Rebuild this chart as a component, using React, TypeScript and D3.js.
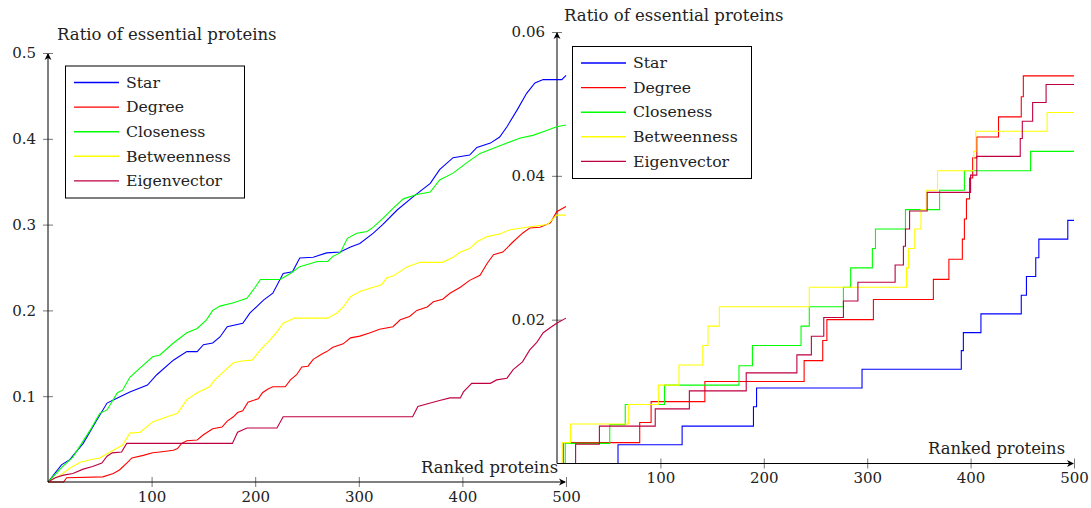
import React, { useEffect, useRef } from 'react';
import * as d3 from 'd3';

type Pt = [number, number];

// ranked proteins (x) -> ratio of essential proteins (y), left panel
const starLeft: Pt[] = [[0, 0], [13, 0.020], [21, 0.026], [34, 0.045], [47, 0.072], [57, 0.092], [67, 0.098], [79, 0.105], [96, 0.113], [105, 0.125], [121, 0.142], [134, 0.152], [144, 0.152], [150, 0.160], [159, 0.162], [166, 0.169], [173, 0.181], [188, 0.185], [195, 0.197], [208, 0.212], [217, 0.220], [227, 0.243], [236, 0.245], [243, 0.261], [256, 0.262], [269, 0.267], [282, 0.268], [292, 0.274], [301, 0.278], [314, 0.290], [323, 0.300], [337, 0.317], [352, 0.332], [369, 0.348], [378, 0.364], [391, 0.378], [407, 0.381], [414, 0.390], [427, 0.395], [436, 0.402], [443, 0.414], [453, 0.434], [462, 0.453], [470, 0.465], [478, 0.469], [496, 0.469], [500, 0.474]];
const degreeLeft: Pt[] = [[0, 0], [15, 0], [18, 0.005], [53, 0.006], [63, 0.010], [69, 0.014], [76, 0.022], [81, 0.028], [92, 0.031], [101, 0.034], [108, 0.035], [121, 0.037], [125, 0.039], [129, 0.045], [134, 0.048], [144, 0.049], [150, 0.055], [159, 0.062], [168, 0.064], [173, 0.071], [179, 0.076], [183, 0.081], [188, 0.083], [193, 0.093], [203, 0.097], [207, 0.104], [212, 0.108], [217, 0.111], [229, 0.111], [234, 0.119], [240, 0.125], [245, 0.134], [251, 0.135], [256, 0.143], [264, 0.149], [269, 0.152], [275, 0.157], [285, 0.161], [292, 0.168], [301, 0.170], [311, 0.174], [320, 0.178], [333, 0.181], [340, 0.189], [349, 0.193], [356, 0.200], [366, 0.204], [372, 0.210], [381, 0.213], [388, 0.220], [398, 0.227], [407, 0.235], [417, 0.241], [424, 0.255], [430, 0.265], [439, 0.268], [449, 0.280], [458, 0.290], [465, 0.296], [475, 0.297], [485, 0.302], [491, 0.315], [500, 0.321]];
const closenessLeft: Pt[] = [[0, 0], [14, 0.018], [24, 0.029], [41, 0.061], [50, 0.080], [57, 0.084], [67, 0.104], [72, 0.107], [79, 0.122], [89, 0.133], [101, 0.146], [108, 0.148], [121, 0.162], [134, 0.174], [144, 0.179], [153, 0.189], [159, 0.200], [166, 0.205], [179, 0.209], [192, 0.214], [200, 0.227], [205, 0.236], [224, 0.236], [234, 0.243], [243, 0.251], [260, 0.257], [270, 0.257], [275, 0.263], [282, 0.267], [289, 0.284], [298, 0.290], [308, 0.292], [314, 0.297], [323, 0.307], [333, 0.319], [343, 0.330], [356, 0.335], [369, 0.338], [378, 0.352], [391, 0.360], [404, 0.372], [417, 0.383], [430, 0.389], [443, 0.395], [456, 0.401], [468, 0.404], [482, 0.410], [491, 0.414], [500, 0.416]];
const betweennessLeft: Pt[] = [[0, 0], [12, 0.008], [21, 0.016], [31, 0.023], [41, 0.026], [50, 0.028], [60, 0.035], [72, 0.043], [79, 0.057], [89, 0.058], [101, 0.070], [115, 0.076], [125, 0.080], [134, 0.096], [144, 0.104], [156, 0.111], [161, 0.119], [169, 0.128], [179, 0.139], [187, 0.141], [197, 0.142], [205, 0.154], [214, 0.165], [221, 0.175], [227, 0.185], [238, 0.191], [270, 0.191], [279, 0.197], [285, 0.204], [292, 0.216], [301, 0.222], [314, 0.227], [322, 0.230], [327, 0.238], [333, 0.240], [347, 0.251], [359, 0.256], [381, 0.256], [391, 0.262], [398, 0.268], [407, 0.272], [414, 0.280], [424, 0.286], [436, 0.289], [446, 0.294], [462, 0.297], [482, 0.300], [491, 0.311], [500, 0.311]];
const eigenLeft: Pt[] = [[0, 0], [7, 0.005], [15, 0.008], [24, 0.010], [34, 0.015], [43, 0.018], [52, 0.022], [57, 0.030], [62, 0.034], [71, 0.035], [76, 0.045], [178, 0.045], [183, 0.058], [192, 0.063], [221, 0.063], [227, 0.076], [352, 0.076], [357, 0.088], [369, 0.092], [378, 0.095], [388, 0.098], [398, 0.098], [401, 0.105], [409, 0.115], [427, 0.115], [433, 0.119], [443, 0.121], [449, 0.131], [458, 0.140], [465, 0.154], [472, 0.163], [478, 0.174], [485, 0.180], [491, 0.185], [500, 0.191]];

// right panel (step curves)
const starRight: Pt[] = [[0, 0], [59, 0.0026], [121, 0.0052], [190, 0.0079], [193, 0.0105], [295, 0.0131], [391, 0.0157], [393, 0.0182], [410, 0.0208], [449, 0.0234], [454, 0.026], [463, 0.0286], [466, 0.0312], [494, 0.0338], [500, 0.0338]];
const degreeRight: Pt[] = [[0, 0], [6, 0.0029], [80, 0.0057], [91, 0.0086], [143, 0.0114], [239, 0.0143], [257, 0.0171], [261, 0.020], [306, 0.0228], [364, 0.0256], [379, 0.0284], [392, 0.0312], [394, 0.034], [396, 0.0368], [399, 0.0397], [402, 0.0425], [406, 0.0454], [427, 0.0482], [449, 0.051], [451, 0.0539], [500, 0.0539]];
const closenessRight: Pt[] = [[0, 0], [8, 0.0028], [51, 0.0054], [66, 0.0082], [104, 0.0109], [176, 0.0136], [189, 0.0164], [236, 0.0191], [244, 0.0218], [277, 0.0245], [284, 0.0272], [305, 0.0299], [308, 0.0326], [337, 0.0353], [370, 0.038], [394, 0.0407], [458, 0.0434], [500, 0.0434]];
const betweennessRight: Pt[] = [[0, 0], [5, 0.0029], [13, 0.0055], [69, 0.0082], [98, 0.0109], [118, 0.0137], [141, 0.0164], [146, 0.0191], [157, 0.0218], [244, 0.0245], [338, 0.0272], [340, 0.0299], [346, 0.0326], [352, 0.0353], [357, 0.038], [368, 0.0407], [403, 0.0434], [405, 0.0462], [474, 0.0488], [500, 0.0488]];
const eigenRight: Pt[] = [[0, 0], [18, 0.0027], [41, 0.0052], [95, 0.0076], [128, 0.0101], [183, 0.0126], [232, 0.0151], [246, 0.0177], [258, 0.0203], [277, 0.0226], [291, 0.0252], [327, 0.0276], [335, 0.0302], [337, 0.0326], [341, 0.0351], [358, 0.0377], [400, 0.0401], [406, 0.0427], [448, 0.0452], [450, 0.0476], [460, 0.0502], [473, 0.0527], [500, 0.0527]];

const seriesNames = ['Star', 'Degree', 'Closeness', 'Betweenness', 'Eigenvector'];
const seriesColors = ['#0000ff', '#ff0000', '#00ff00', '#ffff00', '#bf0040'];
const xTicks = [100, 200, 300, 400, 500];
const leftYTicks = [0.1, 0.2, 0.3, 0.4, 0.5];
const rightYTicks = [0.02, 0.04, 0.06];

const FONT = '"DejaVu Serif", serif';
const INK = '#222';

const drawPanel = (svg, p) => {
    const { x, y, series, curve, yTicks, yFmt, box, title, label } = p;
    const g = svg.append('g');
    const x0 = x.range()[0], x1 = x.range()[1];
    const y0 = y.range()[0], y1 = y.range()[1];

    // data lines
    const line = d3.line<Pt>().x(d => x(d[0])).y(d => y(d[1])).curve(curve);
    series.forEach((s, i) => {
        g.append('path')
            .attr('d', line(s))
            .attr('fill', 'none')
            .attr('stroke', seriesColors[i])
            .attr('stroke-width', 1.1);
    });

    // y axis ticks (crossing the axis line)
    const ya = g.append('g')
        .attr('transform', `translate(${x0},0)`)
        .call(d3.axisLeft(y).tickValues(yTicks).tickSize(5).tickPadding(7).tickFormat(yFmt));
    ya.select('.domain').remove();
    ya.attr('font-family', FONT).attr('font-size', 15);
    ya.selectAll('.tick line').attr('x1', 5).attr('stroke', '#777');
    ya.selectAll('.tick text').attr('fill', INK);

    const xa = g.append('g')
        .attr('transform', `translate(0,${y0})`)
        .call(d3.axisBottom(x).tickValues(xTicks).tickSize(5).tickPadding(4).tickFormat(d3.format('d')));
    xa.select('.domain').remove();
    xa.attr('font-family', FONT).attr('font-size', 15);
    xa.selectAll('.tick line').attr('y1', -5).attr('stroke', '#777');
    xa.selectAll('.tick text').attr('fill', INK);

    // axis lines with arrows
    g.append('line').attr('x1', x0).attr('y1', y0).attr('x2', x0).attr('y2', y1 + 1)
        .attr('stroke', '#000').attr('stroke-width', 1);
    g.append('line').attr('x1', x0).attr('y1', y0).attr('x2', x1 - 1).attr('y2', y0)
        .attr('stroke', '#000').attr('stroke-width', 1);
    const arrow = 'M0,0 L-7,-3.5 L-5,0 L-7,3.5 Z';
    g.append('path').attr('d', arrow).attr('transform', `translate(${x0},${y1}) rotate(-90)`).attr('fill', '#000');
    g.append('path').attr('d', arrow).attr('transform', `translate(${x1},${y0})`).attr('fill', '#000');

    // axis labels
    g.append('text').attr('x', title[0]).attr('y', title[1])
        .attr('font-family', FONT).attr('font-size', 16.5).attr('fill', INK)
        .text('Ratio of essential proteins');
    g.append('text').attr('x', label[0]).attr('y', label[1])
        .attr('font-family', FONT).attr('font-size', 16.4).attr('fill', INK)
        .text('Ranked proteins');

    // legend
    const lg = g.append('g').attr('transform', `translate(${box[0]},${box[1]})`);
    lg.append('rect').attr('x', 0).attr('y', 0).attr('width', 179).attr('height', 132)
        .attr('fill', '#fff').attr('stroke', '#000').attr('stroke-width', 1);
    seriesNames.forEach((name, i) => {
        const ry = 16.5 + i * 24.6;
        lg.append('line').attr('x1', 8.5).attr('x2', 53.5).attr('y1', ry).attr('y2', ry)
            .attr('stroke', seriesColors[i]).attr('stroke-width', 1.4);
        lg.append('text').attr('x', 60.5).attr('y', ry + 5.2)
            .attr('font-family', FONT).attr('font-size', 15.7).attr('fill', INK)
            .text(name);
    });
};

export default function App() {
    const svgRef = useRef(null);

    useEffect(() => {
        const svg = d3.select(svgRef.current);
        svg.selectAll('*').remove();

        drawPanel(svg, {
            x: d3.scaleLinear().domain([0, 500]).range([557, 1074]),
            y: d3.scaleLinear().domain([0, 0.06]).range([463.5, 32]),
            series: [starRight, degreeRight, closenessRight, betweennessRight, eigenRight],
            curve: d3.curveStepAfter,
            yTicks: rightYTicks,
            yFmt: d3.format('.2f'),
            box: [572.5, 46.5],
            title: [564, 21],
            label: [928, 454],
        });

        drawPanel(svg, {
            x: d3.scaleLinear().domain([0, 500]).range([48, 566]),
            y: d3.scaleLinear().domain([0, 0.5]).range([482, 53]),
            series: [starLeft, degreeLeft, closenessLeft, betweennessLeft, eigenLeft],
            curve: d3.curveLinear,
            yTicks: leftYTicks,
            yFmt: d3.format('.1f'),
            box: [65.5, 66],
            title: [57, 40],
            label: [421, 473],
        });
    }, []);

    return (
        <div style={{ position: 'absolute', left: 0, top: 0 }}>
            <svg ref={svgRef} width={1091} height={508} style={{ display: 'block', background: '#fff' }}></svg>
        </div>
    );
}
